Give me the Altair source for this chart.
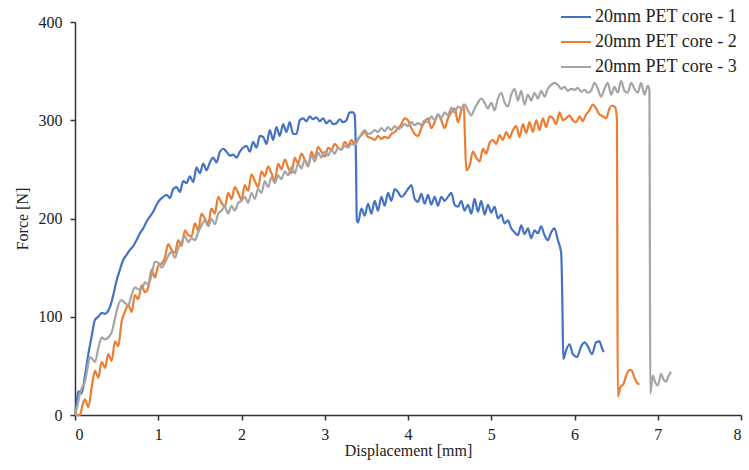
import altair as alt
import pandas as pd

series_names = ["20mm PET core - 1", "20mm PET core - 2", "20mm PET core - 3"]
series_colors = ["#4472C4", "#ED7D31", "#A5A5A5"]

x1 = [0, 0.02, 0.04, 0.08, 0.12, 0.16, 0.20, 0.24, 0.28, 0.32, 0.36, 0.42, 0.46, 0.50, 0.54, 0.58, 0.62, 0.66, 0.70, 0.74,
      0.78, 0.82, 0.86, 0.90, 0.94, 0.98, 1.02, 1.06, 1.10, 1.14, 1.18, 1.22, 1.26, 1.30, 1.34, 1.38, 1.42, 1.46, 1.50, 1.54,
      1.58, 1.62, 1.66, 1.70, 1.74, 1.78, 1.82, 1.86, 1.90, 1.94, 1.98, 2.02, 2.06, 2.10, 2.14, 2.18, 2.22, 2.26, 2.30, 2.34,
      2.38, 2.42, 2.46, 2.50, 2.54, 2.58, 2.62, 2.66, 2.70, 2.74, 2.78, 2.82, 2.86, 2.90, 2.94, 2.98, 3.02, 3.06, 3.10, 3.14,
      3.18, 3.22, 3.26, 3.30, 3.34, 3.36, 3.375, 3.385, 3.40, 3.44, 3.48, 3.52, 3.56, 3.60, 3.64, 3.68, 3.72, 3.76, 3.80, 3.84,
      3.88, 3.92, 3.96, 4.00, 4.04, 4.08, 4.12, 4.16, 4.20, 4.24, 4.28, 4.32, 4.36, 4.40, 4.44, 4.48, 4.52, 4.56, 4.60, 4.64,
      4.68, 4.72, 4.76, 4.80, 4.84, 4.88, 4.92, 4.96, 5.00, 5.04, 5.08, 5.12, 5.16, 5.20, 5.24, 5.28, 5.32, 5.36, 5.40, 5.44,
      5.48, 5.52, 5.56, 5.60, 5.64, 5.68, 5.72, 5.76, 5.80, 5.84, 5.855, 5.865, 5.90, 5.94, 5.98, 6.03, 6.08, 6.12, 6.16, 6.21,
      6.26, 6.30, 6.33, 6.35]
y1 = [0, 12, 24, 22, 40, 62, 80, 97, 100, 104, 103, 110, 122, 137, 148, 158, 163, 168, 172, 178,
      185, 190, 197, 202, 207, 214, 219, 222, 224, 221, 230, 232, 227, 238, 236, 243, 237, 252, 246, 256,
      249, 257, 262, 257, 268, 271, 268, 264, 265, 262, 268, 272, 274, 268, 278, 272, 284, 283, 276, 290,
      280, 293, 284, 296, 288, 298, 286, 286, 300, 302, 299, 304, 301, 303, 299, 302, 297, 300, 296, 297,
      301, 298, 300, 308, 308, 305, 260, 198, 196, 210, 203, 215, 205, 218, 208, 222, 213, 226, 218, 230,
      227, 222, 225, 230, 234, 220, 217, 225, 215, 224, 214, 222, 213, 222, 218, 222, 226, 214, 212, 218,
      208, 214, 205, 220, 207, 218, 204, 214, 206, 212, 200, 204, 195, 198, 190, 186, 183, 193, 184, 190,
      180, 188, 185, 192, 183, 178, 186, 190, 178, 165, 110, 57, 66, 72, 62, 59, 70, 74, 70, 62,
      74, 75, 68, 64]

x2 = [0, 0.06, 0.09, 0.12, 0.16, 0.20, 0.24, 0.28, 0.32, 0.36, 0.40, 0.44, 0.48, 0.52, 0.56, 0.60, 0.64, 0.68, 0.72, 0.76,
      0.80, 0.84, 0.88, 0.92, 0.96, 1.00, 1.04, 1.08, 1.12, 1.16, 1.20, 1.24, 1.28, 1.32, 1.36, 1.40, 1.44, 1.48, 1.52, 1.56,
      1.60, 1.64, 1.68, 1.72, 1.76, 1.80, 1.84, 1.88, 1.92, 1.96, 2.00, 2.04, 2.08, 2.12, 2.16, 2.20, 2.24, 2.28, 2.32, 2.36,
      2.40, 2.44, 2.48, 2.52, 2.56, 2.60, 2.64, 2.68, 2.72, 2.76, 2.80, 2.84, 2.88, 2.92, 2.96, 3.00, 3.04, 3.08, 3.12, 3.16,
      3.20, 3.24, 3.28, 3.32, 3.36, 3.40, 3.44, 3.48, 3.52, 3.56, 3.60, 3.64, 3.68, 3.72, 3.76, 3.80, 3.84, 3.88, 3.92, 3.96,
      4.00, 4.04, 4.08, 4.12, 4.16, 4.20, 4.24, 4.28, 4.32, 4.36, 4.40, 4.44, 4.48, 4.52, 4.56, 4.60, 4.64, 4.67, 4.685, 4.70,
      4.74, 4.78, 4.82, 4.86, 4.90, 4.94, 4.98, 5.02, 5.06, 5.10, 5.14, 5.18, 5.22, 5.26, 5.30, 5.34, 5.38, 5.42, 5.46, 5.50,
      5.54, 5.58, 5.62, 5.66, 5.70, 5.74, 5.78, 5.82, 5.86, 5.90, 5.94, 5.98, 6.02, 6.06, 6.10, 6.14, 6.18, 6.22, 6.26, 6.30,
      6.34, 6.38, 6.42, 6.45, 6.49, 6.51, 6.515, 6.52, 6.55, 6.59, 6.62, 6.66, 6.69, 6.72, 6.75, 6.78]
y2 = [0, 0, 10, 16, 8, 28, 45, 38, 54, 48, 62, 55, 75, 70, 95, 105, 112, 105, 122, 118,
      132, 125, 130, 148, 140, 152, 154, 160, 174, 168, 165, 178, 172, 188, 183, 182, 195, 188, 205, 200,
      195, 210, 205, 222, 216, 212, 226, 220, 232, 226, 219, 234, 228, 245, 238, 232, 248, 243, 253, 246,
      239, 256, 250, 260, 252, 246, 262, 256, 266, 260, 253, 268, 262, 273, 268, 263, 272, 270, 276, 272,
      270, 278, 274, 280, 276, 281, 285, 288, 283, 282, 280, 284, 281, 283, 282, 286, 288, 292, 296, 302,
      300, 292, 286, 284, 292, 298, 302, 292, 298, 306, 300, 292, 302, 308, 312, 298, 310, 316, 280, 249,
      254, 268, 262, 258, 271, 266, 277, 280, 276, 285, 280, 288, 282, 290, 294, 283, 296, 287, 298, 288,
      300, 290, 302, 293, 304, 302, 296, 308, 300, 302, 305, 300, 298, 304, 299, 306, 310, 316, 312, 306,
      304, 302, 312, 315, 313, 300, 150, 19, 28, 32, 40, 46, 45, 38, 33, 31]

x3 = [0, 0.03, 0.06, 0.09, 0.12, 0.15, 0.18, 0.21, 0.24, 0.28, 0.32, 0.36, 0.40, 0.44, 0.48, 0.52, 0.56, 0.60, 0.64, 0.68,
      0.72, 0.76, 0.80, 0.84, 0.88, 0.92, 0.96, 1.00, 1.04, 1.08, 1.12, 1.16, 1.20, 1.24, 1.28, 1.32, 1.36, 1.40, 1.44, 1.48,
      1.52, 1.56, 1.60, 1.64, 1.68, 1.72, 1.76, 1.80, 1.84, 1.88, 1.92, 1.96, 2.00, 2.04, 2.08, 2.12, 2.16, 2.20, 2.24, 2.28,
      2.32, 2.36, 2.40, 2.44, 2.48, 2.52, 2.56, 2.60, 2.64, 2.68, 2.72, 2.76, 2.80, 2.84, 2.88, 2.92, 2.96, 3.00, 3.04, 3.08,
      3.12, 3.16, 3.20, 3.24, 3.28, 3.32, 3.36, 3.40, 3.44, 3.48, 3.52, 3.56, 3.60, 3.64, 3.68, 3.72, 3.76, 3.80, 3.84, 3.88,
      3.92, 3.96, 4.00, 4.04, 4.08, 4.12, 4.16, 4.20, 4.24, 4.28, 4.32, 4.36, 4.40, 4.44, 4.48, 4.52, 4.56, 4.60, 4.64, 4.68,
      4.72, 4.76, 4.80, 4.84, 4.88, 4.92, 4.96, 5.00, 5.04, 5.08, 5.12, 5.16, 5.20, 5.24, 5.28, 5.32, 5.36, 5.40, 5.44, 5.48,
      5.52, 5.56, 5.60, 5.64, 5.68, 5.72, 5.76, 5.80, 5.84, 5.88, 5.92, 5.96, 6.00, 6.04, 6.08, 6.12, 6.16, 6.20, 6.24, 6.28,
      6.32, 6.36, 6.40, 6.44, 6.48, 6.52, 6.56, 6.60, 6.64, 6.68, 6.72, 6.76, 6.80, 6.84, 6.88, 6.90, 6.905, 6.91, 6.94, 6.97,
      7.00, 7.04, 7.07, 7.10, 7.13, 7.16]
y3 = [0, 10, 22, 29, 34, 48, 59, 57, 54, 68, 79, 77, 79, 84, 98, 112, 117, 114, 112, 122,
      130, 128, 128, 135, 133, 142, 156, 155, 150, 155, 162, 166, 160, 170, 176, 182, 176, 180, 178, 186,
      193, 198, 192, 200, 194, 205, 208, 212, 205, 213, 208, 216, 218, 222, 216, 226, 220, 230, 226, 238,
      232, 242, 236, 244, 240, 248, 244, 252, 246, 256, 251, 260, 254, 264, 258, 267, 262, 268, 264, 270,
      266, 272, 270, 274, 272, 276, 275, 280, 286, 290, 286, 287, 290, 288, 292, 289, 293, 290, 294, 291,
      293, 296, 294, 298, 295, 297, 295, 300, 298, 304, 300, 306, 302, 308, 305, 313, 308, 314, 312, 316,
      310, 305, 312, 318, 322, 318, 312, 318, 310, 322, 328, 318, 314, 326, 332, 320, 330, 316, 326, 320,
      328, 322, 330, 324, 332, 336, 338, 336, 332, 334, 330, 332, 331, 333, 329, 331, 328, 330, 338, 332,
      324, 332, 338, 326, 334, 328, 340, 330, 328, 338, 332, 328, 338, 326, 335, 331, 180, 22, 40, 33,
      30, 42, 36, 34, 40, 44]

rows = []
for name, xs, ys in zip(series_names, [x1, x2, x3], [y1, y2, y3]):
    for i, (xv, yv) in enumerate(zip(xs, ys)):
        rows.append({"series": name, "disp": xv, "force": yv, "idx": i})
df = pd.DataFrame(rows)

font = "Liberation Serif, Times New Roman, serif"
axis_color = "#333333"

chart = alt.Chart(df).mark_line(strokeWidth=2.2, interpolate="monotone").encode(
    x=alt.X("disp:Q", scale=alt.Scale(domain=[0, 8], nice=False),
            axis=alt.Axis(title="Displacement [mm]", values=[0, 1, 2, 3, 4, 5, 6, 7, 8],
                          grid=False, tickSize=5, labelPadding=6, titlePadding=0)),
    y=alt.Y("force:Q", scale=alt.Scale(domain=[0, 400], nice=False),
            axis=alt.Axis(title="Force [N]", values=[0, 100, 200, 300, 400],
                          grid=False, tickSize=5, labelPadding=8, titlePadding=8)),
    color=alt.Color("series:N", scale=alt.Scale(domain=series_names, range=series_colors),
                    legend=alt.Legend(title=None, orient="none", legendX=485, legendY=-21,
                                      symbolType="stroke", symbolSize=900, symbolStrokeWidth=2,
                                      rowPadding=-1, labelOffset=3)),
    order="idx:Q",
).properties(
    width=666, height=393,
    padding={"left": 75, "top": 22, "right": 8, "bottom": 55},
    autosize=alt.AutoSizeParams(type="none"),
).configure(font=font).configure_view(stroke=None).configure_axis(
    domainColor=axis_color, tickColor=axis_color, labelColor="#222222", titleColor="#222222",
    labelFont=font, titleFont=font, labelFontSize=16, titleFontSize=16, titleFontWeight="normal",
    domainWidth=1.5, tickWidth=1.5,
).configure_legend(
    labelFont=font, labelFontSize=18, labelColor="#222222", labelLimit=300,
)

chart.save("out.html", embed_options={"renderer": "svg", "actions": False})
